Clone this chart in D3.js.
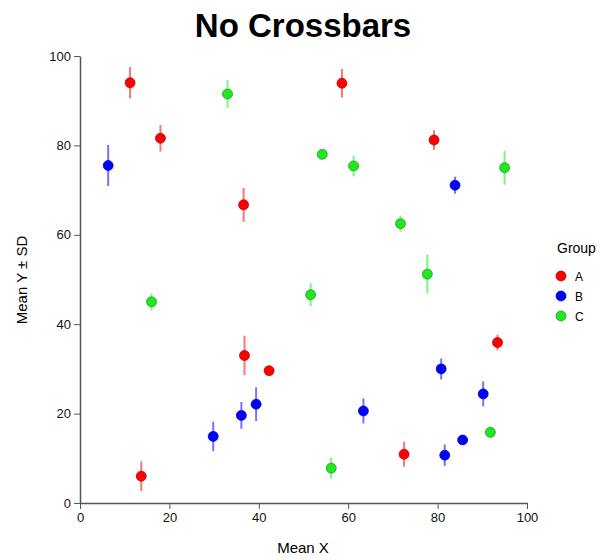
<!DOCTYPE html>
<html>
<head>
<meta charset="utf-8">
<script src="https://cdn.jsdelivr.net/npm/d3@7"></script>
<style>
body { margin: 0; background: #fff; }
text { font-family: "Liberation Sans", Arial, sans-serif; }
</style>
</head>
<body>
<svg width="607" height="560"></svg>
<script>
// values
var groups = ["A", "B", "C"];
var groupColors = ["#ff0000", "#0000ff", "#22e622"];

var meanXA = [11.2, 18.0, 36.6, 58.6, 79.2, 36.8, 42.3, 13.7, 93.4, 72.5];
var meanYA = [94.0, 81.6, 66.7, 93.9, 81.2, 33.0, 29.6, 6.0, 35.9, 10.9];
var sdA    = [3.5, 3.0, 3.8, 3.2, 2.2, 4.4, 0.5, 3.3, 1.75, 2.8];

var meanXB = [6.3, 83.9, 39.4, 36.1, 29.8, 80.8, 90.2, 63.4, 85.6, 81.6];
var meanYB = [75.5, 71.1, 22.1, 19.6, 14.9, 30.0, 24.4, 20.6, 14.1, 10.7];
var sdB    = [4.6, 1.9, 3.8, 3.0, 3.3, 2.35, 2.8, 2.8, 0.6, 2.4];

var meanXC = [33.0, 54.2, 61.2, 95.0, 71.7, 77.7, 16.0, 51.6, 91.8, 56.2];
var meanYC = [91.5, 78.0, 75.4, 75.0, 62.5, 51.2, 45.0, 46.6, 15.8, 7.8];
var sdC    = [3.1, 0.8, 2.3, 3.8, 1.8, 4.4, 1.9, 2.6, 0.5, 2.35];

var xTicks = [0, 20, 40, 60, 80, 100];
var yTicks = [0, 20, 40, 60, 80, 100];

var seriesX = [meanXA, meanXB, meanXC];
var seriesY = [meanYA, meanYB, meanYC];
var seriesSD = [sdA, sdB, sdC];

var svg = d3.select("svg");

var x = d3.scaleLinear().domain([0, 100]).range([80, 527]);
var y = d3.scaleLinear().domain([0, 100]).range([503, 56]);

// axes
var gx = svg.append("g")
    .attr("transform", "translate(0," + y(0) + ")")
    .call(d3.axisBottom(x).tickValues(xTicks).tickSize(6).tickSizeOuter(0).tickPadding(4));
var gy = svg.append("g")
    .attr("transform", "translate(" + x(0) + ",0)")
    .call(d3.axisLeft(y).tickValues(yTicks).tickSize(6).tickSizeOuter(0).tickPadding(3));

[gx, gy].forEach(function(g) {
    g.select(".domain").attr("stroke", "#555").attr("stroke-width", 1.5);
    g.selectAll(".tick line").attr("stroke", "#555");
    g.selectAll(".tick text")
        .attr("fill", "#111")
        .style("font-family", "'Liberation Sans', Arial, sans-serif")
        .style("font-size", "13px");
});

// points with error bars
for (var g = 0; g < groups.length; g++) {
    var pts = seriesX[g].map(function(v, i) {
        return {x: v, y: seriesY[g][i], sd: seriesSD[g][i]};
    });
    var col = groupColors[g];
    svg.append("g").selectAll("line")
        .data(pts)
        .enter().append("line")
        .attr("x1", d => x(d.x))
        .attr("x2", d => x(d.x))
        .attr("y1", d => y(d.y - d.sd))
        .attr("y2", d => y(d.y + d.sd))
        .attr("stroke", col)
        .attr("stroke-opacity", 0.55)
        .attr("stroke-width", 2);
    svg.append("g").selectAll("circle")
        .data(pts)
        .enter().append("circle")
        .attr("cx", d => x(d.x))
        .attr("cy", d => y(d.y))
        .attr("r", 5)
        .attr("fill", col)
        .attr("stroke", d3.color(col).darker(1.2))
        .attr("stroke-width", 0.7);
}

// title and axis labels
svg.append("text")
    .attr("x", 303).attr("y", 37)
    .attr("text-anchor", "middle")
    .style("font-size", "33px")
    .style("font-weight", "bold")
    .text("No Crossbars");

svg.append("text")
    .attr("x", 303).attr("y", 553)
    .attr("text-anchor", "middle")
    .style("font-size", "15px")
    .text("Mean X");

svg.append("text")
    .attr("transform", "translate(27,280) rotate(-90)")
    .attr("text-anchor", "middle")
    .style("font-size", "15px")
    .text("Mean Y \u00b1 SD");

// legend
svg.append("text")
    .attr("x", 557).attr("y", 253)
    .style("font-size", "14px")
    .text("Group");

var leg = svg.append("g").selectAll("g")
    .data(groups)
    .enter().append("g")
    .attr("transform", (d, i) => "translate(561," + (276 + i * 20) + ")");
leg.append("circle")
    .attr("r", 5)
    .attr("fill", (d, i) => groupColors[i])
    .attr("stroke", (d, i) => d3.color(groupColors[i]).darker(1.2))
    .attr("stroke-width", 0.7);
leg.append("text")
    .attr("x", 14).attr("y", 4.5)
    .style("font-size", "12px")
    .text(d => d);
</script>
</body>
</html>
